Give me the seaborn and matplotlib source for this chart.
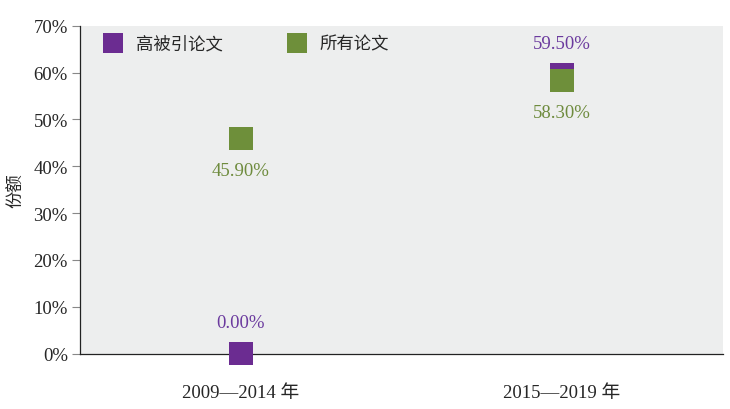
import matplotlib
matplotlib.use("Agg")
import matplotlib.pyplot as plt
import seaborn as sns
import pandas as pd

periods = ["2009—2014 年", "2015—2019 年"]
series_names = ["高被引论文", "所有论文"]
high_cited = [0.00, 59.50]
all_papers = [45.90, 58.30]
colors = ["#6B2C91", "#6E8F3A"]
label_colors = ["#6B3A9E", "#6E8B3D"]

sns.set_theme(style="white")
plt.rcParams['font.family'] = ['Liberation Serif', 'Noto Sans CJK SC', 'DejaVu Sans']

df = pd.DataFrame({
    "period": periods * 2,
    "series": [series_names[0]] * 2 + [series_names[1]] * 2,
    "value": high_cited + all_papers,
})
df["pos"] = [0, 1, 0, 1]

fig, ax = plt.subplots(figsize=(7.3, 4.1), dpi=100)
fig.subplots_adjust(left=0.11, right=0.99, top=0.935, bottom=0.135)
ax.set_facecolor("#EDEEEE")

sns.scatterplot(data=df, x="pos", y="value", hue="series", palette=colors,
                marker="s", s=280, edgecolor="none", ax=ax, clip_on=False,
                zorder=3)

for i, v in enumerate(high_cited):
    ax.text(i, v + 6.6, f"{v:.2f}%", ha="center", va="center", color=label_colors[0],
            fontsize=13.5, family=['Liberation Serif'])
for i, v in enumerate(all_papers):
    ax.text(i, v - 6.9, f"{v:.2f}%", ha="center", va="center", color=label_colors[1],
            fontsize=13.5, family=['Liberation Serif'])

ax.set_xlim(-0.5, 1.5)
ax.set_ylim(0, 70)
ax.set_yticks(range(0, 71, 10))
ax.set_yticklabels([f"{t}%" for t in range(0, 71, 10)], fontsize=13.5)
ax.set_xticks([-0.5, 0.5, 1.5])
ax.set_xticklabels([])
ax.set_xticks([0, 1], minor=True)
ax.set_xticklabels(periods, minor=True, fontsize=13.5)
ax.tick_params(axis="x", which="major", length=9, width=0.8, color="#222222", direction="out")
ax.tick_params(axis="x", which="minor", length=0, pad=22)
ax.tick_params(axis="y", which="major", length=6, width=0.8, color="#888888", direction="out", left=True, pad=3)
ax.set_xlabel("")
ax.set_ylabel("份额", fontsize=12.5, family=['Noto Sans CJK SC'], labelpad=6)

for s in ["top", "right"]:
    ax.spines[s].set_visible(False)
for s in ["left", "bottom"]:
    ax.spines[s].set_color("#222222")
    ax.spines[s].set_linewidth(0.9)

leg = ax.legend(loc="upper left", bbox_to_anchor=(0.0, 1.02), ncol=2, frameon=False,
                markerscale=0.85, handletextpad=0.3, columnspacing=3.25,
                prop={'family': ['Noto Sans CJK SC'], 'size': 12.5})

fig.savefig("out.png", dpi=100)
